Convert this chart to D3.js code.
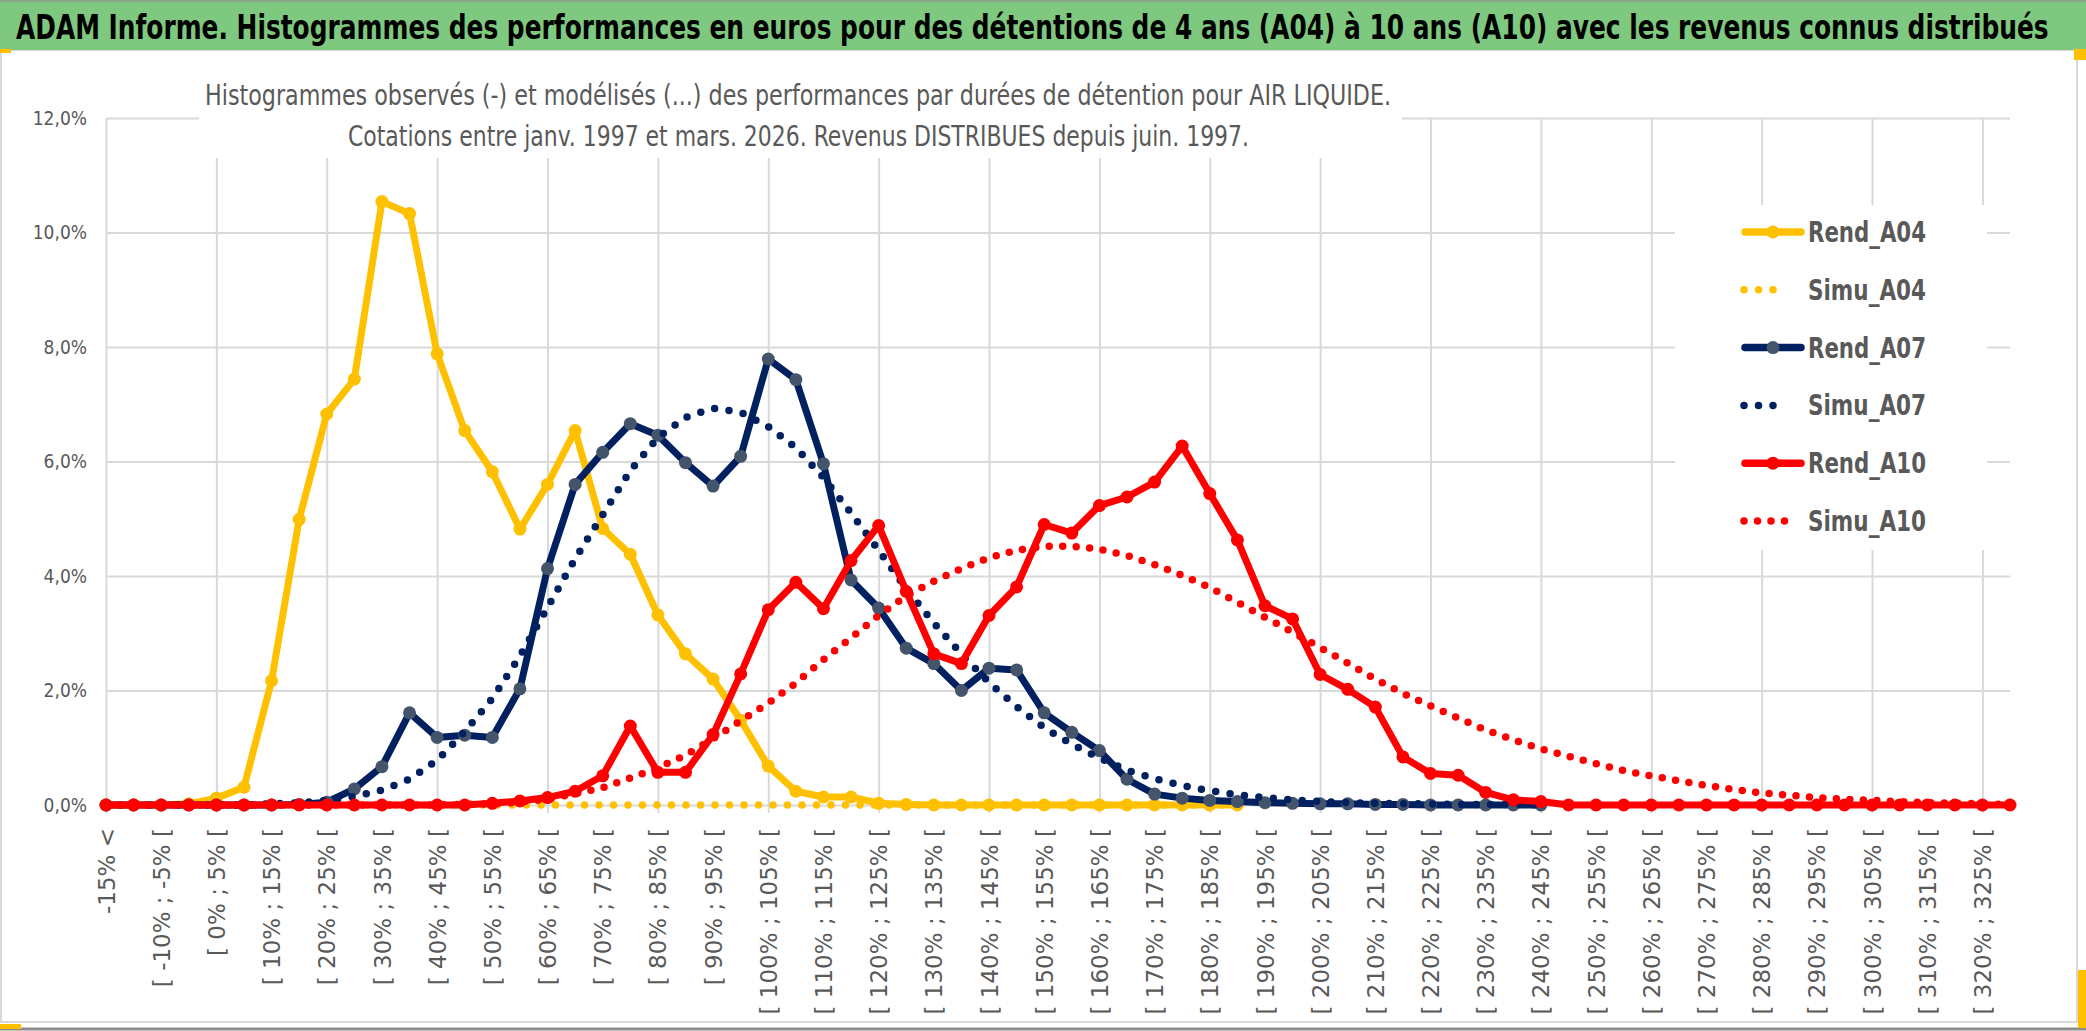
<!DOCTYPE html>
<html>
<head>
<meta charset="utf-8">
<script src="https://cdn.jsdelivr.net/npm/d3@7"></script>
<style>
  body { margin: 0; background: #fff; }
  svg { display: block; }
</style>
</head>
<body>
<svg id="chart"></svg>
<script>
// categories (classes de performance)
const categories = [
  "-15% <", "[ -15% ; -10% [", "[ -10% ; -5% [", "[ -5% ; 0% [", "[ 0% ; 5% [",
  "[ 5% ; 10% [", "[ 10% ; 15% [", "[ 15% ; 20% [", "[ 20% ; 25% [", "[ 25% ; 30% [",
  "[ 30% ; 35% [", "[ 35% ; 40% [", "[ 40% ; 45% [", "[ 45% ; 50% [", "[ 50% ; 55% [",
  "[ 55% ; 60% [", "[ 60% ; 65% [", "[ 65% ; 70% [", "[ 70% ; 75% [", "[ 75% ; 80% [",
  "[ 80% ; 85% [", "[ 85% ; 90% [", "[ 90% ; 95% [", "[ 95% ; 100% [", "[ 100% ; 105% [",
  "[ 105% ; 110% [", "[ 110% ; 115% [", "[ 115% ; 120% [", "[ 120% ; 125% [", "[ 125% ; 130% [",
  "[ 130% ; 135% [", "[ 135% ; 140% [", "[ 140% ; 145% [", "[ 145% ; 150% [", "[ 150% ; 155% [",
  "[ 155% ; 160% [", "[ 160% ; 165% [", "[ 165% ; 170% [", "[ 170% ; 175% [", "[ 175% ; 180% [",
  "[ 180% ; 185% [", "[ 185% ; 190% [", "[ 190% ; 195% [", "[ 195% ; 200% [", "[ 200% ; 205% [",
  "[ 205% ; 210% [", "[ 210% ; 215% [", "[ 215% ; 220% [", "[ 220% ; 225% [", "[ 225% ; 230% [",
  "[ 230% ; 235% [", "[ 235% ; 240% [", "[ 240% ; 245% [", "[ 245% ; 250% [", "[ 250% ; 255% [",
  "[ 255% ; 260% [", "[ 260% ; 265% [", "[ 265% ; 270% [", "[ 270% ; 275% [", "[ 275% ; 280% [",
  "[ 280% ; 285% [", "[ 285% ; 290% [", "[ 290% ; 295% [", "[ 295% ; 300% [", "[ 300% ; 305% [",
  "[ 305% ; 310% [", "[ 310% ; 315% [", "[ 315% ; 320% [", "[ 320% ; 325% [", "[ 325% ; 330% ["
];

// values in %
const rendA04 = [0, 0, 0, 0.02, 0.12, 0.31, 2.17, 4.99, 6.83, 7.44,
  10.54, 10.33, 7.88, 6.54, 5.82, 4.82, 5.60, 6.54, 4.83, 4.38,
  3.32, 2.64, 2.20, 1.48, 0.68, 0.24, 0.14, 0.14, 0.03, 0.01,
  0, 0, 0, 0, 0, 0, 0, 0, 0, 0, 0, 0];

const simuA04 = [0, 0, 0, 0, 0, 0, 0, 0, 0, 0,
  0, 0, 0, 0, 0, 0, 0, 0, 0, 0,
  0, 0, 0, 0, 0, 0, 0, 0, 0, 0,
  0, 0, 0, 0, 0, 0, 0, 0, 0, 0, 0, 0];

const rendA07 = [0, 0, 0, 0, 0, 0, 0, 0.01, 0.05, 0.28,
  0.67, 1.61, 1.18, 1.22, 1.18, 2.03, 4.13, 5.60, 6.16, 6.66,
  6.46, 5.98, 5.57, 6.09, 7.79, 7.43, 5.96, 3.93, 3.44, 2.74,
  2.47, 2.00, 2.39, 2.36, 1.61, 1.27, 0.95, 0.45, 0.19, 0.12,
  0.08, 0.06, 0.04, 0.03, 0.02, 0.02, 0.01, 0.01, 0, 0,
  0, 0, 0];

const simuA07 = [0, 0, 0, 0, 0, 0, 0.02, 0.04, 0.08, 0.15,
  0.26, 0.45, 0.78, 1.28, 1.86, 2.60, 3.45, 4.30, 5.07, 5.84,
  6.42, 6.77, 6.93, 6.86, 6.61, 6.24, 5.72, 5.10, 4.45, 3.78,
  3.18, 2.64, 2.14, 1.72, 1.35, 1.06, 0.82, 0.61, 0.46, 0.34,
  0.25, 0.18, 0.13, 0.09, 0.06, 0.04, 0.03, 0.02, 0.02, 0.01,
  0.01, 0.01, 0];

const rendA10 = [0, 0, 0, 0, 0, 0, 0, 0, 0, 0,
  0, 0, 0, 0, 0.03, 0.07, 0.13, 0.24, 0.51, 1.38,
  0.57, 0.57, 1.23, 2.29, 3.41, 3.89, 3.43, 4.27, 4.88, 3.73,
  2.64, 2.47, 3.31, 3.81, 4.90, 4.75, 5.23, 5.38, 5.64, 6.27,
  5.44, 4.63, 3.48, 3.25, 2.28, 2.02, 1.71, 0.84, 0.55, 0.52,
  0.22, 0.09, 0.06, 0, 0, 0, 0, 0, 0, 0,
  0, 0, 0, 0, 0, 0, 0, 0, 0, 0];

const simuA10 = [0, 0, 0, 0, 0, 0, 0, 0, 0, 0,
  0, 0, 0, 0.01, 0.02, 0.05, 0.10, 0.20, 0.30, 0.47,
  0.65, 0.87, 1.16, 1.47, 1.78, 2.13, 2.54, 2.92, 3.31, 3.65,
  3.91, 4.13, 4.32, 4.45, 4.52, 4.52, 4.47, 4.36, 4.20, 4.01,
  3.80, 3.54, 3.28, 3.02, 2.75, 2.48, 2.20, 1.95, 1.73, 1.52,
  1.31, 1.14, 0.98, 0.85, 0.72, 0.60, 0.51, 0.42, 0.34, 0.27,
  0.21, 0.17, 0.13, 0.10, 0.08, 0.06, 0.04, 0.03, 0.02, 0.01];

const yTicks = [0, 2, 4, 6, 8, 10, 12];

const title = "ADAM Informe. Histogrammes des performances en euros pour des détentions de 4 ans (A04) à 10 ans (A10) avec les revenus connus distribués";
const subtitle1 = "Histogrammes observés (-) et modélisés (...) des performances par durées de détention pour AIR LIQUIDE.";
const subtitle2 = "Cotations entre janv. 1997 et mars. 2026. Revenus DISTRIBUES depuis juin. 1997.";

const series = [
  { name: "Rend_A04", values: rendA04, color: "#FFC000", marker: "#FFC000", dotted: false },
  { name: "Simu_A04", values: simuA04, color: "#FFC000", dotted: true, gap: 14.5 },
  { name: "Rend_A07", values: rendA07, color: "#002060", marker: "#44546A", dotted: false },
  { name: "Simu_A07", values: simuA07, color: "#002060", dotted: true, gap: 14.5 },
  { name: "Rend_A10", values: rendA10, color: "#FF0000", marker: "#FF0000", dotted: false },
  { name: "Simu_A10", values: simuA10, color: "#FF0000", dotted: true, gap: 13.5 }
];

const width = 2086;
const height = 1031;
const plot = { left: 106, right: 2010, top: 118, bottom: 805 };
const narrow = "'Liberation Sans Narrow', 'DejaVu Sans Condensed', 'Open Sans', sans-serif";
const grey = "#595959";
const gridColor = "#d9d9d9";

const svg = d3.select("#chart").attr("width", width).attr("height", height);

// frame
svg.append("rect")
  .attr("x", 1).attr("y", 50).attr("width", 2076).attr("height", 972)
  .attr("fill", "#fff").attr("stroke", "#d9d9d9").attr("stroke-width", 2);
svg.append("line")
  .attr("x1", 0).attr("x2", width).attr("y1", 1029).attr("y2", 1029)
  .attr("stroke", "#8c8c8c").attr("stroke-width", 3);

// green title band
svg.append("rect")
  .attr("x", 0).attr("y", 0).attr("width", width).attr("height", 50)
  .attr("fill", "#7ec97f");
svg.append("line")
  .attr("x1", 0).attr("x2", width).attr("y1", 1).attr("y2", 1)
  .attr("stroke", "#8aa58a").attr("stroke-width", 2);

// title: fit the width with a smaller font, then stretch it vertically
const titleWidth = 2033;
const titleText = svg.append("text")
  .attr("x", 0).attr("y", 0)
  .style("font-family", narrow).style("font-size", "33px").style("font-weight", "bold")
  .attr("fill", "#000")
  .text(title);
const natural = titleText.node().getComputedTextLength();
const k = natural > titleWidth ? titleWidth / natural : 1;
titleText.style("font-size", (33 * k) + "px")
  .attr("transform", `translate(16,39) scale(1,${1 / k})`);

// little selection marks at the corners
svg.append("rect").attr("x", 0).attr("y", 49).attr("width", 11).attr("height", 4).attr("fill", "#FFC000");
svg.append("rect").attr("x", 2074).attr("y", 49).attr("width", 12).attr("height", 11).attr("fill", "#FFC000");
svg.append("rect").attr("x", 0).attr("y", 1024).attr("width", 21).attr("height", 5).attr("fill", "#FFC000");
svg.append("rect").attr("x", 2078).attr("y", 970).attr("width", 8).attr("height", 58).attr("fill", "#FFC000");

const x = d3.scalePoint().domain(categories).range([plot.left, plot.right]);
const y = d3.scaleLinear().domain([0, 12]).range([plot.bottom, plot.top]);

// horizontal gridlines
const hGrid = svg.append("g")
  .attr("transform", `translate(${plot.left},0)`)
  .call(d3.axisLeft(y).tickValues(yTicks).tickSize(-(plot.right - plot.left)).tickFormat(""));
hGrid.select(".domain").remove();
hGrid.selectAll(".tick line").attr("stroke", gridColor).attr("stroke-width", 2);

// vertical gridlines (every 4 classes), with small tick below the axis
const vGrid = svg.append("g")
  .attr("transform", `translate(0,${plot.bottom})`)
  .call(d3.axisBottom(x)
    .tickValues(categories.filter((c, i) => i % 4 === 0))
    .tickSize(-(plot.bottom - plot.top)).tickFormat(""));
vGrid.select(".domain").remove();
vGrid.selectAll(".tick line").attr("y1", 8).attr("stroke", gridColor).attr("stroke-width", 2);

// y labels
const yAxis = svg.append("g")
  .attr("transform", `translate(${plot.left},0)`)
  .call(d3.axisLeft(y).tickValues(yTicks).tickSize(0).tickPadding(19)
    .tickFormat(d => d.toFixed(1).replace(".", ",") + "%"));
yAxis.select(".domain").remove();
yAxis.selectAll("text")
  .style("font-family", narrow).style("font-size", "19px").attr("fill", grey);

// x labels, one out of two
const xAxis = svg.append("g")
  .attr("transform", `translate(0,${plot.bottom})`)
  .call(d3.axisBottom(x).tickValues(categories.filter((c, i) => i % 2 === 0)).tickSize(0));
xAxis.select(".domain").remove();
xAxis.selectAll("text")
  .attr("transform", "rotate(-90)")
  .attr("x", -23).attr("y", 0).attr("dy", "0.35em")
  .attr("text-anchor", "end")
  .style("font-family", "'DejaVu Sans', Verdana, sans-serif").style("font-size", "23px")
  .attr("fill", grey);

// white boxes behind the chart title and the legend
svg.append("rect").attr("x", 199).attr("y", 56).attr("width", 1203).attr("height", 102).attr("fill", "#fff");
svg.append("rect").attr("x", 1675).attr("y", 205).attr("width", 312).attr("height", 345).attr("fill", "#fff");

svg.append("text")
  .attr("x", 205).attr("y", 105)
  .attr("textLength", 1186).attr("lengthAdjust", "spacingAndGlyphs")
  .style("font-family", narrow).style("font-size", "28px").attr("fill", grey)
  .text(subtitle1);
svg.append("text")
  .attr("x", 348).attr("y", 146)
  .attr("textLength", 901).attr("lengthAdjust", "spacingAndGlyphs")
  .style("font-family", narrow).style("font-size", "28px").attr("fill", grey)
  .text(subtitle2);

// series
const line = d3.line()
  .x((d, i) => x(categories[i]))
  .y(d => y(d));

series.forEach(s => {
  const path = svg.append("path")
    .datum(s.values)
    .attr("fill", "none")
    .attr("stroke", s.color)
    .attr("stroke-linejoin", "round")
    .attr("d", line);
  if (s.dotted) {
    path.attr("stroke-width", 7.5)
      .attr("stroke-linecap", "round")
      .attr("stroke-dasharray", `0 ${s.gap}`);
  } else {
    path.attr("stroke-width", 7);
    svg.append("g")
      .selectAll("circle")
      .data(s.values)
      .join("circle")
      .attr("cx", (d, i) => x(categories[i]))
      .attr("cy", d => y(d))
      .attr("r", 6.5)
      .attr("fill", s.marker);
  }
});

// legend
const legend = svg.append("g");
series.forEach((s, i) => {
  const ly = 232 + i * 57.8;
  if (s.dotted) {
    const n = s.name === "Simu_A10" ? 4 : 3;
    legend.append("line")
      .attr("x1", 1744).attr("x2", 1744 + n * s.gap).attr("y1", ly).attr("y2", ly)
      .attr("stroke", s.color).attr("stroke-width", 7.5)
      .attr("stroke-linecap", "round").attr("stroke-dasharray", `0 ${s.gap}`);
  } else {
    legend.append("line")
      .attr("x1", 1745).attr("x2", 1801).attr("y1", ly).attr("y2", ly)
      .attr("stroke", s.color).attr("stroke-width", 7.5).attr("stroke-linecap", "round");
    legend.append("circle")
      .attr("cx", 1773).attr("cy", ly).attr("r", 6.5).attr("fill", s.marker);
  }
  legend.append("text")
    .attr("x", 1808).attr("y", ly + 10)
    .attr("textLength", 118).attr("lengthAdjust", "spacingAndGlyphs")
    .style("font-family", narrow).style("font-size", "28px").style("font-weight", "bold")
    .attr("fill", grey)
    .text(s.name);
});
</script>
</body>
</html>
